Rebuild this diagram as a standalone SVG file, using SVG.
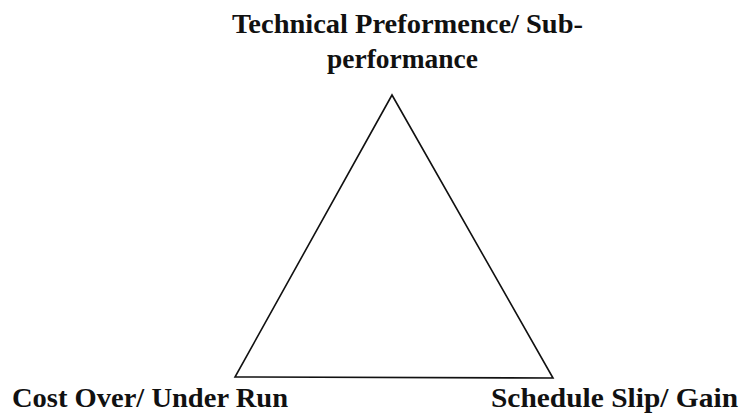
<svg xmlns="http://www.w3.org/2000/svg" width="744" height="419" viewBox="0 0 744 419">
<style>
.lbl{font-family:"Liberation Serif","Times New Roman",serif;font-weight:bold;font-size:28px;fill:#111}
.edge{stroke:#111;stroke-width:1.6;fill:none;stroke-linejoin:miter}
</style>
<rect width="744" height="419" fill="#fff"/>
<g id="connectors">
<path class="edge" d="M392 95 L553 378 L235 377 Z"/>
</g>
<g id="node-technical">
<text class="lbl" x="232" y="33" textLength="351" lengthAdjust="spacingAndGlyphs">Technical Preformence/ Sub-</text>
<text class="lbl" x="327" y="68" textLength="151" lengthAdjust="spacingAndGlyphs">performance</text>
</g>
<g id="node-cost">
<text class="lbl" x="12" y="407" textLength="276" lengthAdjust="spacingAndGlyphs">Cost Over/ Under Run</text>
</g>
<g id="node-schedule">
<text class="lbl" x="491" y="407" textLength="247" lengthAdjust="spacingAndGlyphs">Schedule Slip/ Gain</text>
</g>
</svg>
